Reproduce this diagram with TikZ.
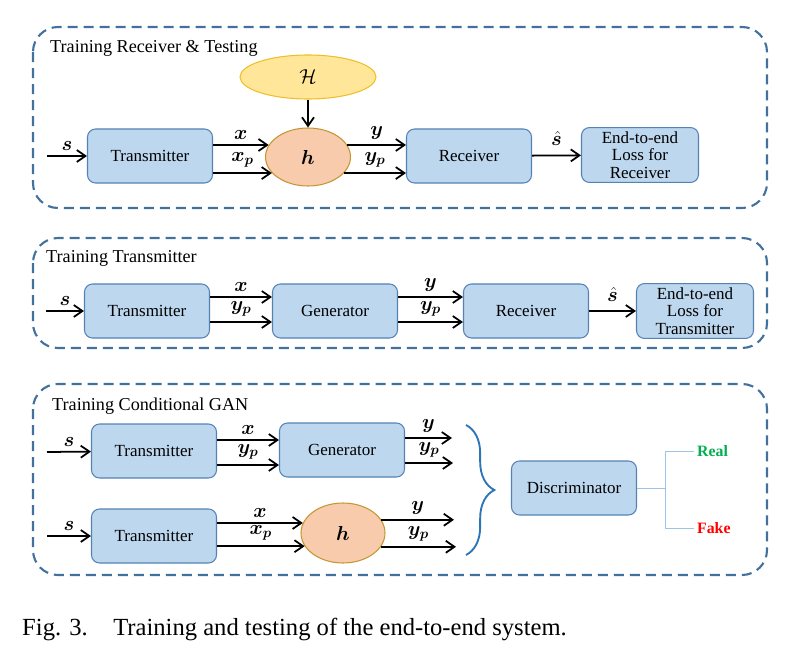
\documentclass[tikz,border=0pt]{standalone}
\usepackage{amsmath}
\usepackage{bm}
\usepackage{fontspec}
\setmainfont{Liberation Serif}
\usetikzlibrary{arrows.meta,positioning,shapes.geometric,calc,decorations.pathreplacing}

\definecolor{framecol}{RGB}{65,113,156}
\definecolor{boxfill}{RGB}{189,215,238}
\definecolor{boxline}{RGB}{84,130,180}
\definecolor{hfill}{RGB}{248,203,173}
\definecolor{hline}{RGB}{196,150,50}
\definecolor{Hfill}{RGB}{255,230,153}
\definecolor{Hline}{RGB}{240,190,40}
\definecolor{bracecol}{RGB}{46,117,182}
\definecolor{forkcol}{RGB}{157,195,230}
\definecolor{realcol}{RGB}{0,176,80}
\definecolor{fakecol}{RGB}{255,0,0}

\newcommand{\boxfont}{\fontsize{14.5}{15}\selectfont}

\begin{document}
\begin{tikzpicture}[x=0.03cm,y=0.03cm,>={Straight Barb[length=2.6mm,width=3.6mm]}]
\tikzstyle{blk} = [rectangle,rounded corners=0.24cm,draw=boxline,fill=boxfill,line width=0.9pt,minimum width=3.75cm,minimum height=1.62cm,align=center,font=\boxfont]
\tikzstyle{chan} = [ellipse,draw=hline,fill=hfill,line width=0.9pt,minimum width=2.55cm,minimum height=1.74cm,font=\fontsize{17}{19}\selectfont]
\tikzstyle{frame} = [draw=framecol,line width=1.8pt,dash pattern=on 0.3cm off 0.18cm,rounded corners=0.75cm]
\tikzstyle{title} = [anchor=west,inner sep=0pt,font=\fontsize{15.5}{17}\selectfont]
\tikzstyle{lbl} = [font=\fontsize{17}{19}\selectfont,inner sep=1.5pt,above=2.5pt]
\tikzstyle{verdict} = [font=\fontsize{13.5}{15}\selectfont\bfseries,anchor=west,inner sep=2.5pt]
\tikzset{sig/.style={->,line width=1.5pt}}
\useasboundingbox (0,0) rectangle (801,-647);

% training receiver & testing
\draw[frame] (33,-27) rectangle (767,-208);
\node[title] (t1) at (50,-48) {Training Receiver \& Testing};
\node[ellipse,draw=Hline,fill=Hfill,line width=0.9pt,minimum width=4.08cm,minimum height=1.32cm,font=\fontsize{16}{18}\selectfont] (Hset) at (308,-77) {$\mathcal{H}$};
\node[chan] (h1) at (308,-157) {$\bm{h}$};
\node[blk] (tx1) at (150,-156) {Transmitter};
\node[blk] (rx1) at (469,-156) {Receiver};
\node[blk,minimum width=3.51cm,minimum height=1.59cm] (loss1) at (640,-155) {End-to-end\\Loss for\\Receiver};
\coordinate (in1) at (47,-156);
\draw (in1) edge[sig] node[lbl] {$\bm{s}$} (tx1);
\draw (Hset) edge[sig] (h1);
\draw (h1.163 -| tx1.east) edge[sig] node[lbl] {$\bm{x}$} (h1.163);
\draw (h1.204 -| tx1.east) edge[sig] node[lbl] {$\bm{x_p}$} (h1.204);
\draw (h1.17) edge[sig] node[lbl] {$\bm{y}$} (h1.17 -| rx1.west);
\draw (h1.336) edge[sig] node[lbl] {$\bm{y_p}$} (h1.336 -| rx1.west);
\draw (rx1) edge[sig] node[lbl,above=6pt] {$\hat{\bm{s}}$} (loss1);

% training transmitter
\draw[frame] (33,-238) rectangle (767,-348);
\node[title] (t2) at (46,-258) {Training Transmitter};
\node[blk] (tx2) at (147,-311) {Transmitter};
\node[blk] (gen2) at (335,-311) {Generator};
\node[blk] (rx2) at (526,-311) {Receiver};
\node[blk,minimum width=3.51cm,minimum height=1.59cm] (loss2) at (695,-311) {End-to-end\\Loss for\\Transmitter};
\coordinate (in2) at (46,-311);
\draw (in2) edge[sig] node[lbl] {$\bm{s}$} (tx2);
\draw ($(tx2.east)+(0,14)$) edge[sig] node[lbl] {$\bm{x}$} ($(gen2.west)+(0,14)$);
\draw ($(tx2.east)+(0,-11)$) edge[sig] node[lbl] {$\bm{y_p}$} ($(gen2.west)+(0,-11)$);
\draw ($(gen2.east)+(0,14)$) edge[sig] node[lbl] {$\bm{y}$} ($(rx2.west)+(0,14)$);
\draw ($(gen2.east)+(0,-11)$) edge[sig] node[lbl] {$\bm{y_p}$} ($(rx2.west)+(0,-11)$);
\draw (rx2) edge[sig] node[lbl,above=6pt] {$\hat{\bm{s}}$} (loss2);

% training conditional GAN
\draw[frame] (33,-384) rectangle (767,-575);
\node[title] (t3) at (52,-406) {Training Conditional GAN};
\node[blk] (tx3) at (154,-451) {Transmitter};
\node[blk] (gen3) at (342,-450) {Generator};
\node[blk] (tx4) at (154,-536) {Transmitter};
\node[chan,minimum width=2.52cm,minimum height=1.8cm] (h3) at (343,-533) {$\bm{h}$};
\coordinate (in3) at (47,-452);
\coordinate (in4) at (47,-536);
\coordinate (o1) at (452,-438);
\coordinate (o2) at (453,-463);
\coordinate (o3) at (454,-520);
\coordinate (o4) at (456,-545);
\draw (in3) edge[sig] node[lbl] {$\bm{s}$} (tx3);
\draw ($(tx3.east)+(0,11)$) edge[sig] node[lbl] {$\bm{x}$} ($(gen3.west)+(0,10)$);
\draw ($(tx3.east)+(0,-14)$) edge[sig] node[lbl] {$\bm{y_p}$} ($(gen3.west)+(0,-15)$);
\draw (o1 -| gen3.east) edge[sig] node[lbl] {$\bm{y}$} (o1);
\draw (o2 -| gen3.east) edge[sig] node[lbl] {$\bm{y_p}$} (o2);
\draw (in4) edge[sig] node[lbl] {$\bm{s}$} (tx4);
\draw (h3.166 -| tx4.east) edge[sig] node[lbl] {$\bm{x}$} (h3.166);
\draw (h3.199 -| tx4.east) edge[sig] node[lbl] {$\bm{x_p}$} (h3.199);
\draw (h3.19) edge[sig] node[lbl] {$\bm{y}$} (h3.19 -| o3);
\draw (h3.340) edge[sig] node[lbl] {$\bm{y_p}$} (h3.340 -| o4);
\draw[bracecol,line width=1.6pt,decorate,decoration={brace,amplitude=0.85cm}] (466,-425) -- (466,-555);
\node[blk] (dis) at (574,-488) {Discriminator};
\node[verdict,text=realcol] (real) at (694,-451) {Real};
\node[verdict,text=fakecol] (fake) at (694,-528) {Fake};
\draw[forkcol,line width=0.8pt] (dis.east) -- ++(28,0) coordinate (br);
\draw[forkcol,line width=0.8pt] (real.west) -| (br) |- (fake.west);

% caption
\node[anchor=west,inner sep=0pt,font=\fontsize{21}{24}\selectfont] (cap) at (22,-629) {Fig. 3.\hspace{0.7em} Training and testing of the end-to-end system.};
\end{tikzpicture}
\end{document}
